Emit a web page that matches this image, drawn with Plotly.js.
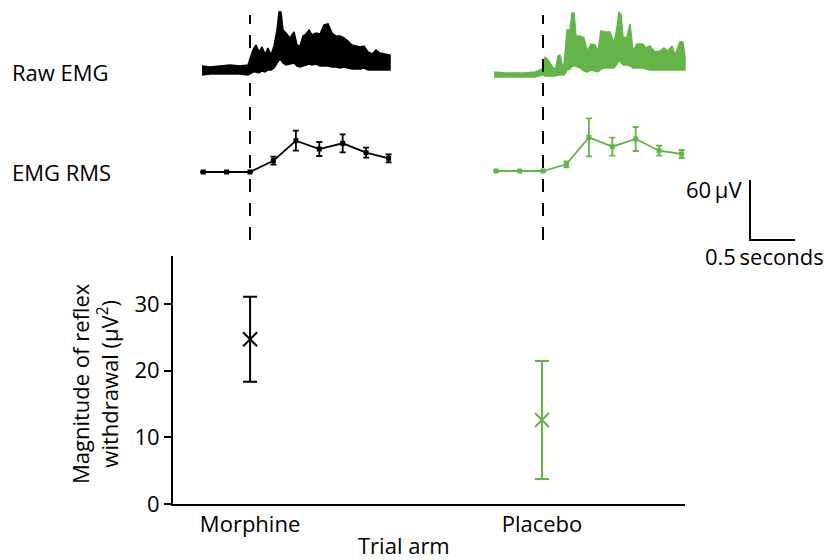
<!DOCTYPE html>
<html>
<head>
<meta charset="utf-8">
<script src="https://cdn.plot.ly/plotly-3.0.1.min.js"></script>
<style>html,body{margin:0;padding:0;background:#fff;}#chart{width:825px;height:560px;}</style>
</head>
<body>
<div id="chart"></div>
<script>
// ---------- DATA ----------
// Raw EMG envelope (time in s relative to stimulus, amplitude in µV)
const morphineRawTime = [-0.533,-0.444,-0.333,-0.222,-0.111,-0.022,0.033,0.067,0.100,0.133,0.167,0.200,0.233,0.267,0.300,0.322,0.344,0.367,0.400,0.444,0.489,0.522,0.556,0.589,0.622,0.656,0.689,0.733,0.778,0.822,0.867,0.911,0.956,1.000,1.044,1.089,1.133,1.178,1.222,1.267,1.311,1.356,1.400,1.444,1.500,1.556];
const morphineRawUpper = [4,3,4,5,4,5,20,25,18,23,16,22,15,24,40,58,58,40,37,32,38,25,24,34,36,40,35,37,36,45,46,37,34,34,32,29,25,24,23,24,18,16,20,17,16,15];
const morphineRawLower = [-5,-4,-4,-4,-4,-5,-2,-2,-3,-1,-2,0,0,2,7,10,10,7,5,6,7,4,3,4,5,6,5,6,4,4,4,3,3,2,3,2,1,1,1,2,0,0,0,0,0,0];

const placeboRawTime = [-0.544,-0.422,-0.311,-0.200,-0.089,-0.033,0.000,0.022,0.056,0.078,0.111,0.144,0.167,0.189,0.211,0.233,0.256,0.267,0.300,0.322,0.344,0.367,0.411,0.456,0.489,0.533,0.578,0.611,0.644,0.689,0.744,0.789,0.822,0.844,0.867,0.889,0.933,0.967,1.000,1.044,1.111,1.144,1.189,1.244,1.300,1.344,1.389,1.433,1.467,1.522,1.556,1.578];
const placeboRawUpper = [-2,-3,-3,-3,-2,0,2,13,10,7,2,2,14,15,6,4,25,40,40,57,57,34,34,32,19,26,25,19,39,38,38,27,42,58,55,32,33,46,19,26,26,22,24,18,19,22,19,24,15,28,28,13];
const placeboRawLower = [-7,-7,-7,-7,-7,-6,-5,-6,-6,-6,-6,-6,-5,-5,-5,-5,-2,0,1,4,4,4,2,-1,-2,0,-1,-2,1,2,2,2,6,10,8,5,5,4,2,2,2,1,0,0,0,0,0,0,0,0,0,0];

// EMG RMS (µV) with error bars
const rmsTime = [-0.52,-0.26,0,0.26,0.51,0.77,1.03,1.29,1.54];
const morphineRms = [5,5,5,16.3,36.3,28,33.7,24.3,18.7];
const morphineRmsErr = [0,0,0,4,10,7,9,5,4];
const placeboRms = [6,6,6,12.7,39.7,30.3,38,26.3,23];
const placeboRmsErr = [0,0,0,3,19,9,12,5,4];

// Magnitude of reflex withdrawal (µV²)
const arms = ['Morphine','Placebo'];
const magnitude = [24.7, 12.6];
const magnitudeLow = [18.35, 3.75];
const magnitudeHigh = [31.1, 21.45];
const yTicks = [0,10,20,30];

// Scale bar
const scaleVoltage = [60];   // µV
const scaleTime = [0.5];     // seconds
const stimulusTime = [0];

// ---------- STYLE / LAYOUT ----------
const W = 825, H = 560;
const BLACK = '#000000';
const GREEN = '#64b548';
const FONT = 'Open Sans, Noto Sans, sans-serif';
const FS = 22;
const px = v => v / W;
const py = v => (H - v) / H;

function band(t, up, lo, xa, color) {
  return {
    type: 'scatter', mode: 'lines', xaxis: xa, yaxis: 'y2',
    x: t.concat(t.slice().reverse()),
    y: up.concat(lo.slice().reverse()),
    fill: 'toself', fillcolor: color,
    line: {color: color, width: 1.5}, hoverinfo: 'skip', showlegend: false
  };
}
function rms(t, v, e, xa, color) {
  return {
    type: 'scatter', mode: 'lines+markers', xaxis: xa, yaxis: 'y3',
    x: t, y: v,
    error_y: {type: 'data', array: e, visible: true, color: color, thickness: 1.8, width: 3},
    line: {color: color, width: 1.8},
    marker: {color: color, size: 5, symbol: 'square'},
    showlegend: false
  };
}

const traces = [
  band(morphineRawTime, morphineRawUpper, morphineRawLower, 'x2', BLACK),
  band(placeboRawTime, placeboRawUpper, placeboRawLower, 'x3', GREEN),
  rms(rmsTime, morphineRms, morphineRmsErr, 'x2', BLACK),
  rms(rmsTime, placeboRms, placeboRmsErr, 'x3', GREEN),
  {
    type: 'scatter', mode: 'markers', x: [arms[0]], y: [magnitude[0]],
    error_y: {type: 'data', symmetric: false,
      array: [magnitudeHigh[0] - magnitude[0]], arrayminus: [magnitude[0] - magnitudeLow[0]],
      color: BLACK, thickness: 2, width: 7},
    marker: {symbol: 'x-thin', size: 14, line: {color: BLACK, width: 2}},
    showlegend: false
  },
  {
    type: 'scatter', mode: 'markers', x: [arms[1]], y: [magnitude[1]],
    error_y: {type: 'data', symmetric: false,
      array: [magnitudeHigh[1] - magnitude[1]], arrayminus: [magnitude[1] - magnitudeLow[1]],
      color: GREEN, thickness: 2, width: 7},
    marker: {symbol: 'x-thin', size: 14, line: {color: GREEN, width: 2}},
    showlegend: false
  }
];

// scale bar anchored to the placebo time axis and raw EMG voltage axis
const sbT0 = 2.3, sbV0 = -170;
traces.push({
  type: 'scatter', mode: 'lines', xaxis: 'x3', yaxis: 'y2',
  x: [sbT0, sbT0, sbT0 + scaleTime[0]],
  y: [sbV0 + scaleVoltage[0], sbV0, sbV0],
  line: {color: BLACK, width: 2}, hoverinfo: 'skip', showlegend: false
});

const layout = {
  width: W, height: H,
  margin: {l: 0, r: 0, t: 0, b: 0},
  paper_bgcolor: '#ffffff', plot_bgcolor: 'rgba(0,0,0,0)',
  font: {family: FONT, size: FS, color: BLACK},
  showlegend: false,
  xaxis: {
    domain: [px(173), px(685)], anchor: 'y', type: 'category',
    categoryorder: 'array', categoryarray: arms,
    range: [-0.264, 1.49],
    showline: true, linecolor: BLACK, linewidth: 2,
    ticks: '', showgrid: false, zeroline: false,
    tickfont: {size: FS, family: FONT}
  },
  yaxis: {
    domain: [py(504), py(256)], anchor: 'x',
    range: [0, 37.2], tickvals: yTicks,
    showline: true, linecolor: BLACK, linewidth: 2,
    ticks: 'outside', ticklen: 7, tickwidth: 2, tickcolor: BLACK,
    showgrid: false, zeroline: false,
    tickfont: {size: FS, family: FONT}
  },
  xaxis2: {domain: [0, 1], anchor: 'y2', range: [-250/90, 575/90], visible: false, fixedrange: true},
  xaxis3: {domain: [0, 1], anchor: 'y2', range: [-543/90, 282/90], visible: false, fixedrange: true},
  yaxis2: {domain: [0, 1], anchor: 'x2', range: [-490, 70], visible: false, fixedrange: true},
  yaxis3: {domain: [0, 1], anchor: 'x2', range: [-383, 177], visible: false, fixedrange: true},
  shapes: [
    {type: 'line', xref: 'x2', yref: 'paper', x0: stimulusTime[0], x1: stimulusTime[0], y0: py(240), y1: py(15),
     line: {color: BLACK, width: 2, dash: '13px,11px'}},
    {type: 'line', xref: 'x3', yref: 'paper', x0: stimulusTime[0], x1: stimulusTime[0], y0: py(240), y1: py(15),
     line: {color: BLACK, width: 2, dash: '13px,11px'}}
  ],
  annotations: [
    {text: 'Raw EMG', xref: 'paper', yref: 'paper', x: px(10), y: py(72), xanchor: 'left', yanchor: 'middle', showarrow: false, font: {size: FS}},
    {text: 'EMG RMS', xref: 'paper', yref: 'paper', x: px(10), y: py(172), xanchor: 'left', yanchor: 'middle', showarrow: false, font: {size: FS}},
    {text: '60\u2009µV', xref: 'paper', yref: 'paper', x: px(744), y: py(189), xanchor: 'right', yanchor: 'middle', showarrow: false, font: {size: FS}},
    {text: '0.5\u2009seconds', xref: 'paper', yref: 'paper', x: px(764), y: py(256), xanchor: 'center', yanchor: 'middle', showarrow: false, font: {size: FS}},
    {text: 'Trial arm', xref: 'paper', yref: 'paper', x: px(404), y: 0, xanchor: 'center', yanchor: 'bottom', yshift: -2, showarrow: false, font: {size: FS}},
    {text: 'Magnitude of reflex<br>withdrawal (µV<sup>2</sup>)', xref: 'paper', yref: 'paper', x: px(94), y: py(384),
     xanchor: 'center', yanchor: 'middle', textangle: -90, showarrow: false, font: {size: FS}}
  ]
};

Plotly.newPlot('chart', traces, layout, {staticPlot: true, displayModeBar: false});
</script>
</body>
</html>
